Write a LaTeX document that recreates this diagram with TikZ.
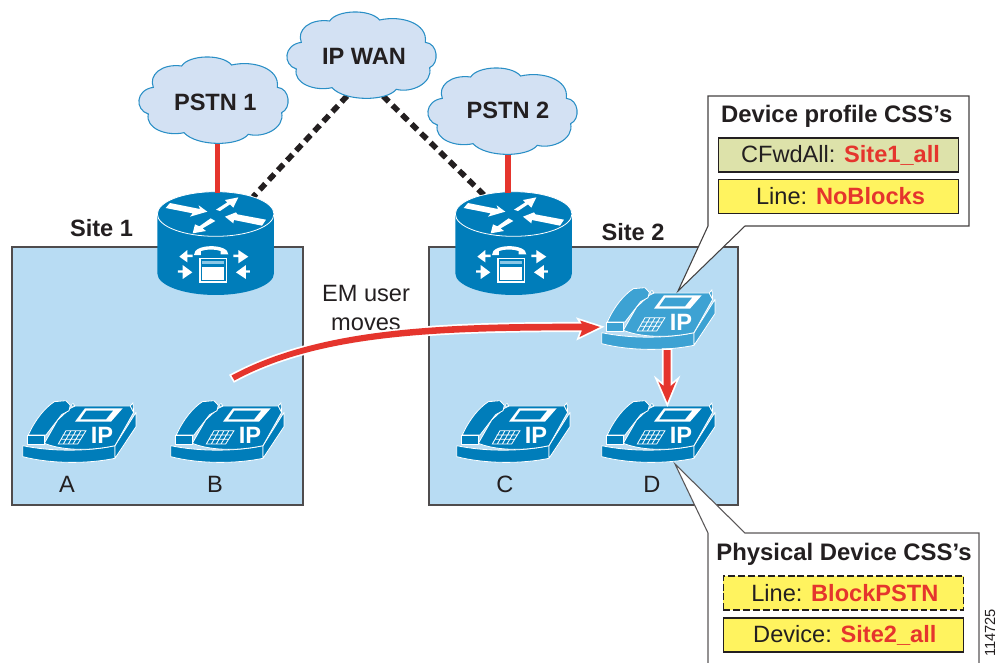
\documentclass[tikz,border=0pt]{standalone}
\usepackage{fontspec}
\setmainfont{Liberation Sans}
\definecolor{ink}{HTML}{231F20}
\definecolor{redc}{HTML}{E5352D}
\definecolor{cloudf}{HTML}{D3E1F3}
\definecolor{clouds}{HTML}{2A8FC6}
\definecolor{sitef}{HTML}{B8DCF3}
\definecolor{ciscob}{HTML}{007DBA}
\definecolor{ciscol}{HTML}{3DA2D3}
\definecolor{greenf}{HTML}{DDE2AA}
\definecolor{yellowf}{HTML}{FFF35F}
\tikzset{
 txt/.style={text=ink,inner sep=0pt,font=\fontsize{17.7}{20}\selectfont},
 btxt/.style={txt,font=\fontsize{17.7}{20}\selectfont\bfseries},
 sitebox/.style={draw=ink!80,fill=sitef,line width=0.8pt},
 wanlink/.style={line width=4.2pt,ink,dash pattern=on 6pt off 4pt},
 redlink/.style={line width=3.8pt,redc},
 callout/.style={draw=ink!85,fill=white,line width=0.8pt,line join=miter},
 cssbox/.style={draw=ink,line width=0.8pt,inner sep=0pt,text=ink,minimum height=25.5pt,minimum width=180.5pt,font=\fontsize{17.7}{20}\selectfont},
 phoneline/.style={draw=white,line width=0.6pt,line join=round},
 wh/.style={fill=white,draw=none},
 halo/.style={fill=white,draw=white,line width=2.6pt,line join=miter},
 redfill/.style={fill=redc,draw=none},
}
\newcommand{\rd}[1]{\textcolor{redc}{\bfseries #1}}
\newcommand{\cloudshape}[5]{%
 \begin{scope}[shift={(#1,#2)},scale=0.3333]
 \path[fill=cloudf,draw=clouds,line width=0.8pt]
 (70,262) .. controls (55,225) and (95,190) .. (155,198)
 .. controls (175,165) and (275,160) .. (305,195)
 .. controls (370,180) and (450,205) .. (442,262)
 .. controls (480,265) and (485,325) .. (455,338)
 .. controls (465,385) and (400,415) .. (355,403)
 .. controls (325,440) and (200,440) .. (162,398)
 .. controls (110,410) and (45,385) .. (55,342)
 .. controls (15,330) and (15,270) .. (70,262) -- cycle;
 \node[btxt] (#3) at (#5) {#4};
 \end{scope}}
\newcommand{\routericon}[3]{%
 \begin{scope}[shift={(#1,#2)},scale=0.3333]
 \path[fill=ciscob] (22,87) -- (22,265) arc[start angle=180,end angle=0,x radius=175,y radius=65] -- (372,87) -- cycle;
 \path[fill=ciscob,draw=white,line width=0.6pt] (197,87) ellipse[x radius=175,y radius=67];
 \path[wh] (47,69) -- (60,54) -- (150,72) -- (146,61) -- (172,80) -- (120,95) -- (128,85) -- cycle;
 \path[wh] (198,74) -- (232,52) -- (225,45) -- (265,37) -- (250,68) -- (240,58) -- (210,78) -- cycle;
 \path[wh] (225,95) -- (258,82) -- (262,88) -- (348,104) -- (336,122) -- (252,105) -- (250,115) -- cycle;
 \path[wh] (128,145) -- (135,118) -- (148,124) -- (182,100) -- (196,108) -- (158,130) -- (168,138) -- cycle;
 \path[wh] (132,210) .. controls (130,175) and (235,175) .. (235,208) -- (212,208) -- (212,198) .. controls (195,192) and (170,192) .. (153,198) -- (153,210) -- cycle;
 \path[wh] (148,218) rectangle (232,293);
 \path[fill=ciscob] (153,223) rectangle (227,288);
 \path[fill=ciscol!60!white] (157,227) rectangle (223,238);
 \path[wh] (157,246) rectangle (223,284);
 \path[wh] (88,215) -- (112,195) -- (112,209) -- (128,209) -- (128,216) -- (112,216) -- (112,232) -- cycle;
 \path[wh] (295,215) -- (265,195) -- (265,209) -- (250,209) -- (250,216) -- (265,216) -- (265,235) -- cycle;
 \path[wh] (127,262) -- (98,240) -- (98,256) -- (84,256) -- (84,263) -- (98,263) -- (98,282) -- cycle;
 \path[wh] (258,262) -- (288,240) -- (288,256) -- (300,256) -- (300,263) -- (288,263) -- (288,282) -- cycle;
 \coordinate (#3) at (197,20);
 \end{scope}}
\newcommand{\ipphone}[4]{%
 \begin{scope}[shift={(#1,#2)},scale=0.3333]
 \path[phoneline,fill=#3] (35,497) -- (35,530) .. controls (120,552) and (230,552) .. (312,535) -- (312,497) .. controls (230,515) and (120,515) .. (35,497) -- cycle;
 \path[phoneline,fill=#3] (312,497) -- (375,397) -- (375,440) -- (312,535) -- cycle;
 \path[phoneline,fill=#3] (100,490) -- (140,420) -- (178,385) -- (192,378) -- (358,378) -- (368,397) -- (312,497) .. controls (230,515) and (150,510) .. (100,490) -- cycle;
 \path[phoneline,fill=#3] (358,378) -- (366,368) -- (368,397) -- cycle;
 \path[phoneline,fill=#3] (178,378) -- (192,378) -- (186,370) -- cycle;
 \path[phoneline,fill=#3] (50,492) -- (50,465) -- (100,465) -- (100,492) -- cycle;
 \path[phoneline,fill=#3] (52,465) .. controls (72,420) and (100,385) .. (130,365) -- (165,362) -- (178,376) -- (174,392) -- (152,404) -- (105,465) -- cycle;
 \path[wh] (222,385) -- (335,385) -- (300,425) -- (192,425) -- cycle;
 \path[fill=#3] (226,392) -- (306,392) -- (285,418) -- (208,418) -- cycle;
 \path[draw=white,line width=0.6pt] (165,452) -- (225,452) -- (200,492) -- (142,492) -- cycle
   (155,465) -- (217,465) (149,478) -- (208,478)
   (180,452) -- (157,492) (195,452) -- (172,492) (210,452) -- (186,492);
 \node[inner sep=0pt,text=white,font=\fontsize{17.7}{20}\selectfont\bfseries] (#4) at (273,465) {IP};
 \end{scope}}
\begin{document}
\begin{tikzpicture}[x=0.75pt,y=-0.75pt]
\useasboundingbox (0,0) rectangle (997,662);
% sites
\path[sitebox] (12,247) rectangle (303,505);
\path[sitebox] (429,247) rectangle (738,505);
\node[btxt] (site1) at (101.5,228) {Site 1};
\node[btxt] (site2) at (633,232) {Site 2};
% anchors of the links
\coordinate (pstnAout) at (217.5,141);
\coordinate (pstnBout) at (508,152);
\coordinate (wanL) at (347,96);
\coordinate (wanR) at (383,96);
\coordinate (rtrAwan) at (253,197);
\coordinate (rtrBwan) at (485,196);
\path[wanlink,draw] (wanL) -- (rtrAwan);
\path[wanlink,draw] (wanR) -- (rtrBwan);
% routers
\routericon{150}{185}{rtrA}
\routericon{448}{185}{rtrB}
\draw[redlink] (pstnAout) -- (217.5,193);
\draw[redlink] (pstnBout) -- (508,193);
% clouds
\cloudshape{130}{0}{pstnA}{PSTN 1}{256,306}
\cloudshape{419}{11}{pstnB}{PSTN 2}{267,297}
\cloudshape{278}{-45}{wan}{IP WAN}{258,303}
% phones
\ipphone{11}{280}{ciscob}{ipA}
\ipphone{159}{280}{ciscob}{ipB}
\ipphone{445}{280}{ciscob}{ipC}
\ipphone{590}{280}{ciscob}{ipD}
\ipphone{590}{167}{ciscol}{ipM}
\node[txt] (la) at (67,484) {A};
\node[txt] (lb) at (215,484) {B};
\node[txt] (lc) at (505,484) {C};
\node[txt] (ld) at (652,484) {D};
\node[txt,align=center,font=\fontsize{17.7}{21.5}\selectfont] (em) at (366,308) {EM user\\moves};
% move arrow: tapered stem with a white halo
\coordinate (moveT) at (600,327);
\foreach \sty in {halo,redfill}{
 \path[\sty] (231.5,375.5) .. controls (320,328) and (440,323.5) .. (582,323.7)
   -- (580,320.5) -- (moveT) -- (579.5,337) -- (582,330.3)
   .. controls (440,330.5) and (320,334) .. (234.5,380.5) -- cycle;
}
% down arrow
\coordinate (downS) at (663.7,350);
\coordinate (downT) at (667.3,402.5);
\foreach \sty in {halo,redfill}{
 \path[\sty] (downS) -- (663.7,386) -- (658.3,381.5) -- (downT) -- (676,381.5) -- (670.7,386) -- (670.7,350) -- cycle;
}
% callouts
\coordinate (tipU) at (678,291);
\coordinate (tipD) at (675,464);
\path[callout] (tipU) -- (708,226) -- (708,96) -- (969,96) -- (969,226) -- (745,226) -- cycle;
\node[btxt,font=\fontsize{17.9}{20}\selectfont\bfseries] (h1) at (836.7,116) {Device profile CSS’s};
\node[cssbox,fill=greenf] (b1) at (838.5,155) {\hspace*{3pt}CFwdAll: \rd{Site1\_all}};
\node[cssbox,fill=yellowf] (b2) at (838.5,196.5) {\hspace*{3pt}Line: \rd{NoBlocks}};
\path[draw=ink!75,fill=white,line width=0.8pt,line join=miter] (708,663) -- (708,533) -- (tipD) -- (745,533) -- (979,533) -- (979,663);
\node[btxt,font=\fontsize{17.9}{20}\selectfont\bfseries] (h2) at (844,554) {Physical Device CSS’s};
\node[cssbox,fill=yellowf,dash pattern=on 5.2pt off 2.2pt] (b3) at (843.5,593) {\hspace*{2pt}Line: \rd{BlockPSTN}};
\node[cssbox,fill=yellowf] (b4) at (843.5,635) {\hspace*{2pt}Device: \rd{Site2\_all}};
\node[inner sep=0pt,rotate=90,text=ink,font=\fontsize{11}{12}\selectfont] (code) at (990,633) {114725};
\end{tikzpicture}
\end{document}
